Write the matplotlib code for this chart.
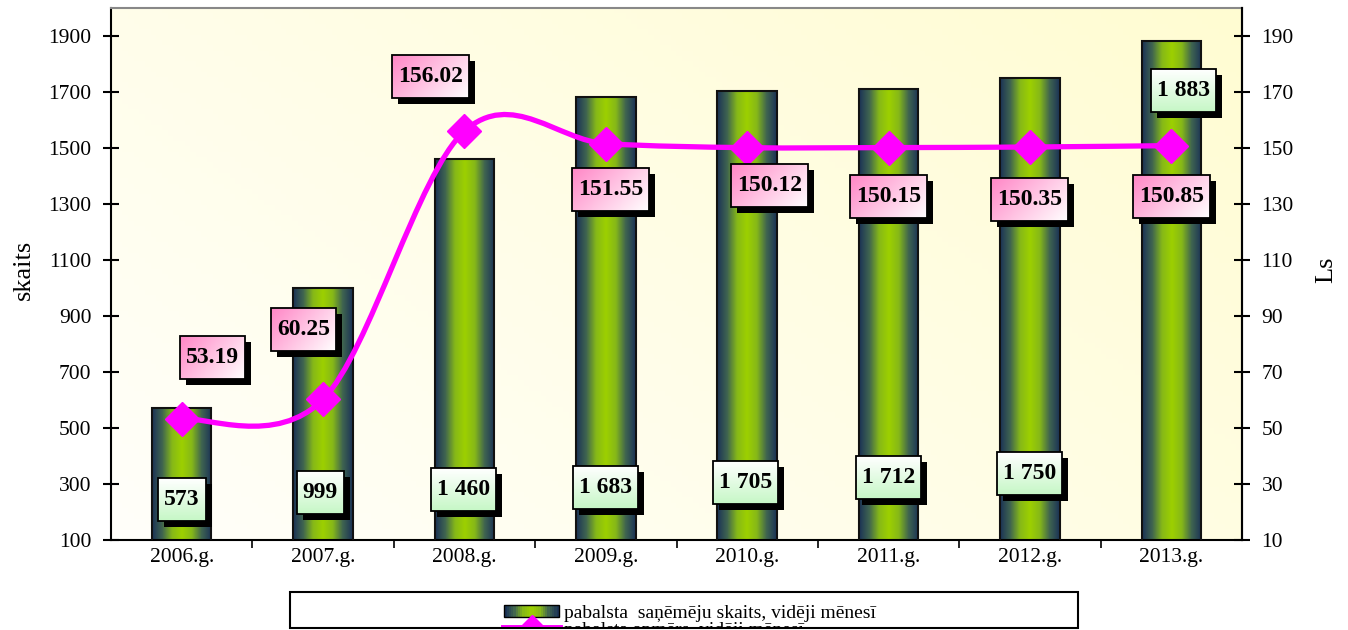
import numpy as np
import matplotlib
matplotlib.use('Agg')
import matplotlib.pyplot as plt
from matplotlib.colors import LinearSegmentedColormap, to_rgb
from matplotlib.patches import Rectangle, PathPatch
from matplotlib.path import Path
from matplotlib.lines import Line2D
from matplotlib.legend_handler import HandlerBase
from matplotlib.transforms import IdentityTransform

# data
years = ['2006.g.', '2007.g.', '2008.g.', '2009.g.', '2010.g.', '2011.g.', '2012.g.', '2013.g.']
counts = [573, 999, 1460, 1683, 1705, 1712, 1750, 1883]
amounts = [53.19, 60.25, 156.02, 151.55, 150.12, 150.15, 150.35, 150.85]
count_name = 'pabalsta  saņēmēju skaits, vidēji mēnesī'
amount_name = 'pabalsta apmērs, vidēji mēnesī'

# label placement (offset from category, height on right axis)
count_pos = [(0, 24.3), (-0.02, 26.8), (-0.005, 28.2), (0, 28.6), (-0.01, 30.4), (0, 32.2), (0, 33.6), (0.085, 170.6)]
amount_pos = [(0.22, 75.1), (-0.14, 85.1), (-0.24, 175.7), (0.035, 135.2), (0.16, 136.7), (0, 132.7), (0, 131.6), (0, 132.7)]

plt.rcParams['font.family'] = ['Liberation Serif', 'DejaVu Serif']

bar_cmap = LinearSegmentedColormap.from_list('bar', ['#1b3356', '#3f6450', '#86b818', '#9dd000', '#86b818', '#3f6450', '#1b3356'])
magenta = '#ff00ff'

fig = plt.figure(figsize=(13.48, 6.3), dpi=100)
ax = fig.add_axes([111 / 1348, 90 / 630, 1131 / 1348, 532 / 630])
ax2 = ax.twinx()

x = np.arange(len(years))

# background
u, v = np.meshgrid(np.linspace(0, 1, 200), np.linspace(0, 1, 100))
bg_cmap = LinearSegmentedColormap.from_list('bg', ['#fffffa', '#fffcd2'])
ax.imshow(0.6 * u + 0.4 * v, extent=(0, 1, 0, 1), origin='lower', transform=ax.transAxes,
          cmap=bg_cmap, aspect='auto', zorder=0)

# bars with horizontal gradient
width = 0.42
bars = ax.bar(x, counts, width=width, color='none', edgecolor='#111111', linewidth=1.5, zorder=3)
grad = np.linspace(0, 1, 100)[np.newaxis, :]
for b in bars:
    ax.imshow(grad, extent=(b.get_x(), b.get_x() + b.get_width(), 0, b.get_height()),
              cmap=bar_cmap, aspect='auto', zorder=2)

ax.set_xlim(-0.5, 7.5)
ax.set_ylim(100, 2000)
ax2.set_ylim(10, 200)

# smoothed line (Catmull-Rom as bezier)
pts = np.column_stack([x, amounts]).astype(float)
ext = np.vstack([pts[0], pts, pts[-1]])
verts = [pts[0]]
codes = [Path.MOVETO]
for i in range(len(pts) - 1):
    p0, p1, p2, p3 = ext[i], ext[i + 1], ext[i + 2], ext[i + 3]
    verts += [p1 + (p2 - p0) / 6, p2 - (p3 - p1) / 6, p2]
    codes += [Path.CURVE4] * 3
ax2.add_patch(PathPatch(Path(verts, codes), fill=False, edgecolor=magenta, lw=3.8, zorder=3))
ax2.plot(x, amounts, ls='none', marker='D', ms=17, color=magenta, zorder=4)

# ticks
ax.set_xticks(np.arange(0.5, 7, 1))
ax.set_xticklabels([])
ax.set_xticks(x, minor=True)
ax.set_xticklabels(years, minor=True)
ax.tick_params(axis='x', which='major', direction='out', length=6, width=1.2)
ax.tick_params(axis='x', which='minor', length=0, labelsize=15.5, pad=6)
ax.set_yticks(range(100, 2000, 200))
ax.tick_params(axis='y', direction='inout', length=12, width=1.5, labelsize=15.5, pad=8)
ax2.set_yticks(range(10, 200, 20))
ax2.tick_params(axis='y', direction='inout', length=12, width=1.5, labelsize=15.5, pad=8)

for s in ['left', 'bottom', 'right']:
    ax.spines[s].set_linewidth(1.5)
ax.spines['top'].set_color('#888888')
ax.spines['top'].set_linewidth(1.5)
for s in ['left', 'bottom', 'top']:
    ax2.spines[s].set_visible(False)
ax2.spines['right'].set_linewidth(1.5)

fig.text(24 / 1348, 1 - 270 / 630, 'skaits', rotation=90, ha='center', va='center', fontsize=19)
fig.text(1326 / 1348, 1 - 270 / 630, 'Ls', rotation=90, ha='center', va='center', fontsize=19)

# value labels
texts = []
for i, c in enumerate(counts):
    dx, yy = count_pos[i]
    t = fig.text(i + dx, yy, f'{c:,}'.replace(',', ' '), transform=ax2.transData, ha='center', va='center',
                 fontsize=17, fontweight='bold', zorder=8)
    texts.append((t, 'green'))
for i, a in enumerate(amounts):
    dx, yy = amount_pos[i]
    t = fig.text(i + dx, yy, f'{a:.2f}', transform=ax2.transData, ha='center', va='center',
                 fontsize=17, fontweight='bold', zorder=8)
    texts.append((t, 'pink'))

fig.canvas.draw()
renderer = fig.canvas.get_renderer()
for t, kind in texts:
    bb = t.get_window_extent(renderer)
    bx, by = int(round(bb.x0 - 6)), int(round(bb.y0 - 11))
    w, h = int(round(bb.width + 12)), int(round(bb.height + 22))
    fig.add_artist(Rectangle((bx + 6, by - 6), w, h, facecolor='black', edgecolor='none',
                             transform=IdentityTransform(), zorder=5))
    gu, gv = np.meshgrid(np.linspace(0, 1, w), np.linspace(0, 1, h))
    if kind == 'pink':
        tt = np.clip(0.65 * gu + 0.35 * (1 - gv), 0, 1)
        c0, c1 = np.array(to_rgb('#ff86c6')), np.array(to_rgb('#ffffff'))
    else:
        tt = 1 - gv
        c0, c1 = np.array(to_rgb('#ffffff')), np.array(to_rgb('#c6f7c6'))
    img = c0 + (c1 - c0) * tt[..., None]
    fig.figimage(img, xo=bx, yo=by, origin='lower', zorder=6)
    fig.add_artist(Rectangle((bx, by), w, h, fill=False, edgecolor='black', linewidth=1.3,
                             transform=IdentityTransform(), zorder=7))


# legend
class GradHandler(HandlerBase):
    def create_artists(self, legend, orig, xd, yd, w, h, fontsize, trans):
        n = 24
        arts = [Rectangle((-xd + w * i / n, -yd), w / n + 0.01, h, facecolor=bar_cmap(i / (n - 1)),
                          edgecolor='none', transform=trans) for i in range(n)]
        arts.append(Rectangle((-xd, -yd), w, h, fill=False, edgecolor='black', lw=1, transform=trans))
        return arts


bar_proxy = Rectangle((0, 0), 1, 1)
line_proxy = Line2D([], [], color=magenta, lw=5, marker='D', ms=13)
fig.legend([bar_proxy, line_proxy], [count_name, amount_name], handler_map={bar_proxy: GradHandler()},
           loc='upper center', bbox_to_anchor=(690 / 1348, (630 - 595) / 630), frameon=False,
           fontsize=14, handlelength=2.8, handleheight=0.6, handletextpad=0.25, labelspacing=0.0,
           borderpad=0)
fig.add_artist(Rectangle((0, 0), 1, 2 / 630, transform=fig.transFigure, facecolor='white',
                         edgecolor='none', zorder=9))
fig.add_artist(Rectangle((290 / 1348, 2 / 630), (1078 - 290) / 1348, (628 - 592) / 630,
                         transform=fig.transFigure, fill=False, edgecolor='black', lw=1.5, zorder=10))

fig.savefig('out.png', dpi=100)
